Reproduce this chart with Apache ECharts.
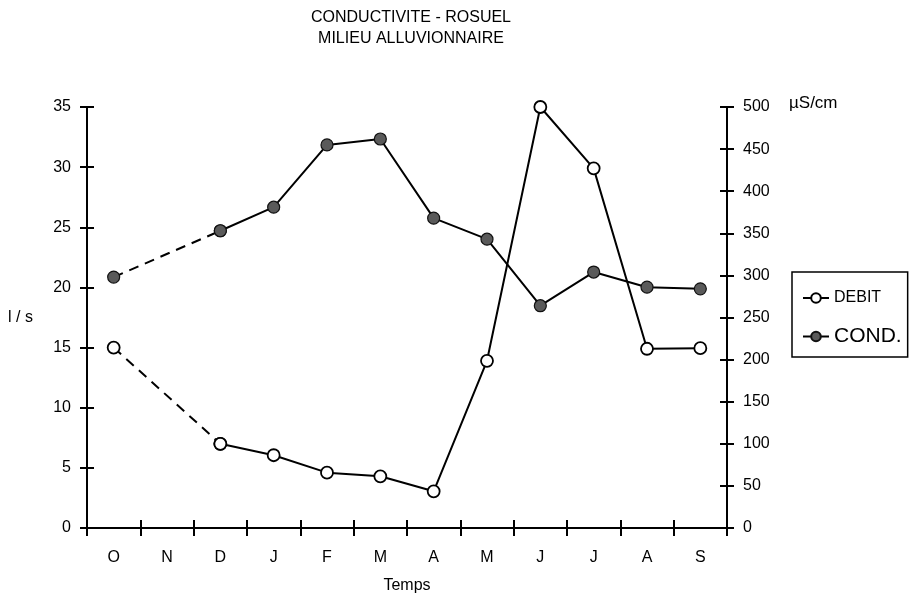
<!DOCTYPE html>
<html>
<head>
<meta charset="utf-8">
<script src="https://cdn.jsdelivr.net/npm/echarts@6/dist/echarts.min.js"></script>
<style>
  html, body { margin: 0; padding: 0; background: #fff; }
  #chart { width: 909px; height: 598px; }
</style>
</head>
<body>
<div id="chart"></div>
<script>
// données
const months = ["O", "N", "D", "J", "F", "M", "A", "M", "J", "J", "A", "S"];
const debit = [15, null, 7, 6.05, 4.6, 4.3, 3.05, 13.9, 35, 29.9, 14.9, 14.95];
const cond = [298, null, 353, 381, 455, 462, 368, 343, 264, 304, 286, 284];
const debitTicks = [0, 5, 10, 15, 20, 25, 30, 35];
const condTicks = [0, 50, 100, 150, 200, 250, 300, 350, 400, 450, 500];
// fin du tronçon en pointillés (O -> D, pas de mesure en N)
const dashEnd = 2;

const FONT = "Liberation Sans";

const dashedPart = (arr) => arr.map((v, i) => (i <= dashEnd ? v : null));
const solidPart = (arr) => arr.map((v, i) => (i >= dashEnd ? v : null));

const myChart = echarts.init(document.getElementById("chart"));

const yAxisBase = (ticks, pos, inside, labels) => ({
  type: "value",
  position: pos,
  min: ticks[0],
  max: ticks[ticks.length - 1],
  interval: ticks[1] - ticks[0],
  splitLine: { show: false },
  axisLine: { show: labels, lineStyle: { color: "#000", width: 2 } },
  axisTick: { show: true, inside: inside, length: 7, lineStyle: { color: "#000", width: 2 } },
  axisLabel: { show: labels, color: "#000", fontFamily: FONT, fontSize: 16, margin: 16 },
});

const debitStyle = {
  symbol: "circle",
  symbolSize: 12,
  itemStyle: { color: "#fff", borderColor: "#000", borderWidth: 1.8 },
};
const condStyle = {
  symbol: "circle",
  symbolSize: 12,
  itemStyle: { color: "#5a5a5a", borderColor: "#111", borderWidth: 1.2 },
};

let option = {
  animation: false,
  backgroundColor: "#fff",
  title: {
    text: "CONDUCTIVITE - ROSUEL\nMILIEU ALLUVIONNAIRE",
    left: 406,
    top: 2,
    textAlign: "center",
    textStyle: { fontFamily: FONT, fontSize: 16, fontWeight: "normal", color: "#000", lineHeight: 21 },
  },
  grid: { left: 87, right: 182, top: 107, bottom: 70, outerBoundsMode: "none", containLabel: false },
  legend: {
    orient: "vertical",
    left: 792,
    top: 272,
    data: ["DEBIT", "COND."],
    itemWidth: 26,
    itemHeight: 12,
    itemGap: 20,
    padding: [18, 6, 10, 10],
    borderColor: "#000",
    borderWidth: 1.5,
    selectedMode: false,
    formatter: (name) => (name === "DEBIT" ? "{s|DEBIT}" : "{l|COND.}"),
    textStyle: {
      color: "#000",
      fontFamily: FONT,
      rich: {
        s: { fontSize: 16, fontFamily: FONT, color: "#000" },
        l: { fontSize: 21, fontFamily: FONT, color: "#000" },
      },
    },
  },
  graphic: [
    {
      type: "text",
      left: 789,
      top: 95,
      style: { text: "µS/cm", font: "17px " + FONT, fill: "#000" },
    },
  ],
  xAxis: [
    {
      type: "category",
      data: months,
      boundaryGap: true,
      name: "Temps",
      nameLocation: "middle",
      nameGap: 50,
      nameTextStyle: { color: "#000", fontFamily: FONT, fontSize: 16 },
      axisLine: { lineStyle: { color: "#000", width: 2 } },
      axisTick: { show: true, length: 8, lineStyle: { color: "#000", width: 2 } },
      axisLabel: { color: "#000", fontFamily: FONT, fontSize: 16, margin: 22 },
    },
    {
      type: "category",
      data: months,
      position: "bottom",
      boundaryGap: true,
      axisLine: { show: false },
      axisTick: { show: true, inside: true, length: 8, lineStyle: { color: "#000", width: 2 } },
      axisLabel: { show: false },
    },
  ],
  yAxis: [
    Object.assign(yAxisBase(debitTicks, "left", false, true), {
      name: "l / s",
      nameLocation: "middle",
      nameRotate: 0,
      nameGap: 54,
      nameTextStyle: { color: "#000", fontFamily: FONT, fontSize: 16 },
    }),
    yAxisBase(condTicks, "right", false, true),
    yAxisBase(debitTicks, "left", true, false),
    yAxisBase(condTicks, "right", true, false),
  ],
  series: [
    Object.assign({
      name: "debit-pointilles",
      type: "line",
      yAxisIndex: 0,
      data: dashedPart(debit),
      connectNulls: true,
      lineStyle: { color: "#000", width: 2, type: [10, 7] },
    }, debitStyle),
    Object.assign({
      name: "DEBIT",
      type: "line",
      yAxisIndex: 0,
      data: solidPart(debit),
      lineStyle: { color: "#000", width: 2 },
    }, debitStyle),
    Object.assign({
      name: "cond-pointilles",
      type: "line",
      yAxisIndex: 1,
      data: dashedPart(cond),
      connectNulls: true,
      lineStyle: { color: "#000", width: 2, type: [10, 7] },
    }, condStyle),
    Object.assign({
      name: "COND.",
      type: "line",
      yAxisIndex: 1,
      data: solidPart(cond),
      lineStyle: { color: "#000", width: 2 },
    }, condStyle),
  ],
};

myChart.setOption(option);
</script>
</body>
</html>
